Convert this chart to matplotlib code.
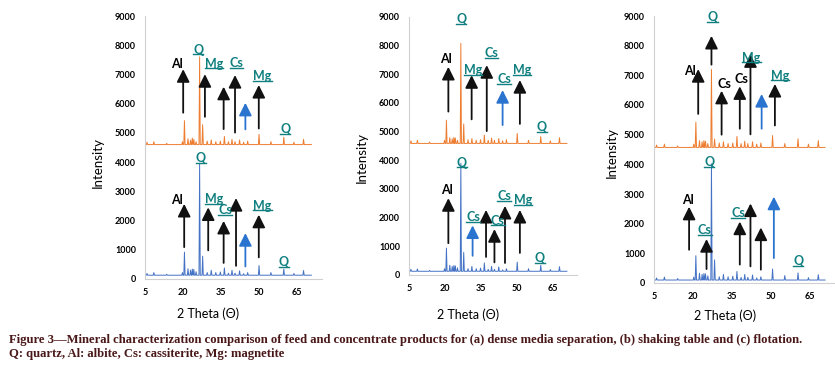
import matplotlib
matplotlib.use("Agg")
import matplotlib.pyplot as plt
from matplotlib.lines import Line2D

W, H = 835, 378

# peak positions (2 theta) and intensities
theta_ab = [5.8, 8.5, 13.6, 19.8, 20.6, 22.0, 23.0, 23.7, 24.3, 25.2, 26.6, 27.8, 29.6, 31.2,
            33.0, 34.8, 36.4, 38.0, 39.4, 40.6, 42.4, 44.0, 45.6, 50.1, 54.8, 59.9, 63.9, 67.7]
theta_c = [6.0, 9.0, 14.1, 20.3, 21.1, 22.5, 23.5, 24.2, 24.8, 25.7, 27.1, 28.3, 30.1, 31.7,
           33.5, 35.3, 36.9, 38.5, 39.9, 41.1, 42.9, 44.5, 46.1, 50.6, 55.3, 60.4, 64.4, 68.2]

a_top = [4680, 4700, 4640, 4700, 5420, 4800, 4750, 4820, 4780, 4700, 7600, 5280, 4720, 4760,
         4700, 4720, 4880, 4700, 4780, 4700, 4760, 4680, 4720, 4950, 4700, 4850, 4680, 4780]
a_bot = [190, 220, 160, 220, 920, 350, 300, 340, 330, 250, 3960, 780, 220, 300,
         220, 240, 380, 200, 300, 200, 280, 180, 220, 460, 220, 340, 190, 290]
b_top = [4680, 4700, 4640, 4700, 5400, 4790, 4750, 4800, 4780, 4700, 8080, 5270, 4720, 4760,
         4700, 4720, 4880, 4700, 4780, 4700, 4760, 4680, 4720, 4940, 4700, 4830, 4680, 4790]
b_bot = [200, 210, 160, 220, 940, 340, 300, 330, 320, 250, 3900, 790, 220, 300,
         220, 240, 420, 200, 300, 200, 280, 180, 220, 450, 220, 340, 190, 290]
c_top = [4650, 4680, 4620, 4680, 5420, 4800, 4760, 4800, 4780, 4700, 7200, 4850, 4720, 4760,
         4700, 4720, 4940, 4700, 4780, 4700, 4760, 4680, 4720, 4970, 4700, 4860, 4680, 4800]
c_bot = [170, 200, 150, 200, 920, 330, 290, 320, 310, 240, 4020, 780, 210, 290,
         210, 230, 390, 190, 290, 190, 270, 170, 210, 470, 250, 340, 180, 280]

baselines = {"a": (4600, 130), "b": (4590, 130), "c": (4570, 100)}
theta_end = 70.8

x_ticks = [5, 20, 35, 50, 65]
y_ticks = [0, 1000, 2000, 3000, 4000, 5000, 6000, 7000, 8000, 9000]

# arrows: (2theta, tail, tip, colour key)
arrows_a = [(20.1, 5690, 7180, "k"), (28.7, 5550, 7010, "k"), (36.1, 5130, 6580, "k"),
            (40.6, 5010, 6980, "k"), (44.7, 5120, 6030, "b"), (50.0, 5150, 6640, "k"),
            (20.5, 1090, 2570, "k"), (30.0, 980, 2450, "k"), (36.1, 550, 1990, "k"),
            (41.0, 450, 2770, "k"), (44.7, 430, 1570, "b"), (50.0, 740, 2200, "k")]
labels_a = [("Al", 17.6, 7370, "k"), ("Q", 26.0, 7850, "t"), ("Mg", 32.4, 7370, "t"),
            ("Cs", 41.2, 7400, "t"), ("Mg", 51.5, 6940, "t"), ("Q", 60.4, 5120, "t"),
            ("Al", 17.8, 2710, "k"), ("Q", 27.1, 4130, "t"), ("Mg", 32.4, 2730, "t"),
            ("Cs", 36.7, 2370, "t"), ("Mg", 51.5, 2510, "t"), ("Q", 59.9, 570, "t")]

arrows_b = [(21.4, 5700, 7260, "k"), (31.1, 5430, 6970, "k"), (37.4, 5020, 7320, "k"),
            (44.0, 5230, 6450, "b"), (51.2, 5270, 6800, "k"),
            (21.4, 1110, 2680, "k"), (31.5, 670, 1730, "b"), (37.1, 630, 2270, "k"),
            (40.6, 440, 1600, "k"), (45.0, 420, 2410, "k"), (51.2, 770, 2270, "k")]
labels_b = [("Q", 26.7, 8940, "t"), ("Al", 20.3, 7550, "k"), ("Mg", 31.8, 7150, "t"),
            ("Cs", 39.4, 7730, "t"), ("Cs", 44.6, 6820, "t"), ("Mg", 52.0, 7150, "t"),
            ("Q", 60.3, 5170, "t"),
            ("Q", 27.0, 3920, "t"), ("Al", 20.7, 2970, "k"), ("Cs", 31.8, 2020, "t"),
            ("Cs", 42.0, 1900, "t"), ("Cs", 44.6, 2740, "t"), ("Mg", 52.6, 2620, "t"),
            ("Q", 59.6, 590, "t")]

arrows_c = [(27.1, 7360, 8330, "k"), (22.0, 5700, 7210, "k"), (31.0, 5000, 6480, "k"),
            (38.0, 5200, 6630, "k"), (42.1, 5010, 7710, "k"), (46.4, 5200, 6370, "b"),
            (51.5, 5310, 6710, "k"),
            (18.5, 1120, 2570, "k"), (25.2, 470, 1480, "k"), (38.0, 620, 2070, "k"),
            (42.1, 560, 2680, "k"), (46.1, 450, 1870, "k"), (51.1, 840, 2910, "b")]
labels_c = [("Q", 27.5, 8970, "t"), ("Al", 18.7, 7150, "k"), ("Cs", 32.2, 6710, "k"),
            ("Cs", 38.7, 6880, "k"), ("Mg", 42.5, 7600, "t"), ("Mg", 53.4, 6990, "t"),
            ("Q", 26.2, 4080, "t"), ("Al", 18.1, 2800, "k"), ("Cs", 24.5, 1790, "t"),
            ("Cs", 37.4, 2350, "t"), ("Q", 60.5, 730, "t")]

ORANGE = "#ed7d31"
BLUE = "#4472c4"
TEAL = "#0f7f7f"
ARROW = {"k": "#111111", "b": "#2a74d0"}
AXIS = "#d0d0d0"
CAPTION = "#4a1818"


def trace(theta, heights, base):
    xs, ys = [5.0], [base]
    for x, h in zip(theta, heights):
        xs += [x - 0.25, x, x + 0.25]
        ys += [base, h, base]
    xs.append(theta_end)
    ys.append(base)
    return xs, ys


def px_axes(left, top, right, bottom):
    return [left / W, 1 - bottom / H, (right - left) / W, (bottom - top) / H]


fig = plt.figure(figsize=(W / 100, H / 100), dpi=100)

panels = [
    (px_axes(145, 16, 322, 279), theta_ab, a_top, a_bot, baselines["a"], arrows_a, labels_a),
    (px_axes(409, 17, 577, 275), theta_ab, b_top, b_bot, baselines["b"], arrows_b, labels_b),
    (px_axes(654, 16, 836, 283), theta_c, c_top, c_bot, baselines["c"], arrows_c, labels_c),
]

teal_texts = []
for rect, theta, top, bot, (base_top, base_bot), arrows, labels in panels:
    ax = fig.add_axes(rect)
    x, y = trace(theta, top, base_top)
    ax.plot(x, y, color=ORANGE, lw=0.7)
    x, y = trace(theta, bot, base_bot)
    ax.plot(x, y, color=BLUE, lw=0.7)
    ax.set_xlim(5, 75)
    ax.set_ylim(0, 9000)
    ax.set_xticks(x_ticks)
    ax.set_yticks(y_ticks)
    ax.tick_params(length=0, labelsize=6.5, pad=6.5)
    for lab in ax.get_xticklabels() + ax.get_yticklabels():
        lab.set_fontfamily("Lato")
        lab.set_fontweight("bold")
    for side in ("top", "right"):
        ax.spines[side].set_visible(False)
    for side in ("left", "bottom"):
        ax.spines[side].set_color(AXIS)
        ax.spines[side].set_linewidth(0.8)
    ax.patch.set_alpha(0)
    for xa, tail, tip, c in arrows:
        ax.annotate("", xy=(xa, tip), xytext=(xa, tail),
                    arrowprops=dict(arrowstyle="-|>,head_length=0.7,head_width=0.35",
                                    color=ARROW[c], lw=1.3, mutation_scale=11,
                                    shrinkA=0, shrinkB=0))
    for text, xt, yt, c in labels:
        if c == "t":
            t = ax.text(xt, yt, text, color=TEAL, fontsize=9, fontweight="bold",
                        family="Lato", ha="center", va="center")
            teal_texts.append(t)
        else:
            ax.text(xt, yt, text, color="black", fontsize=9, fontweight="bold",
                    family="Lato", ha="center", va="center")

for xp, yp in ((98, 162), (362, 158), (612, 153)):
    fig.text(xp / W, 1 - yp / H, "Intensity", rotation=90, fontsize=9.5,
             family="Lato", ha="center", va="center")
for xp, yp in ((208, 314), (468, 315), (725, 316)):
    fig.text(xp / W, 1 - yp / H, "2 Theta (\u0398)", fontsize=9,
             family="Lato", ha="center", va="center")

fig.text(9 / W, 1 - 340 / H,
         "Figure 3\u2014Mineral characterization comparison of feed and concentrate products "
         "for (a) dense media separation, (b) shaking table and (c) flotation.",
         fontsize=9.05, family="Liberation Serif", fontweight="bold", color=CAPTION,
         ha="left", va="center")
fig.text(9 / W, 1 - 354 / H, "Q: quartz, Al: albite, Cs: cassiterite, Mg: magnetite",
         fontsize=9.05, family="Liberation Serif", fontweight="bold", color=CAPTION,
         ha="left", va="center")

# underline the teal mineral labels
fig.canvas.draw()
renderer = fig.canvas.get_renderer()
for t in teal_texts:
    bb = t.get_window_extent(renderer)
    yl = (bb.y0 + 1.2) / H
    fig.add_artist(Line2D([bb.x0 / W, bb.x1 / W], [yl, yl], color=TEAL, lw=1.0,
                          transform=fig.transFigure))

fig.savefig("out.png", dpi=100)
